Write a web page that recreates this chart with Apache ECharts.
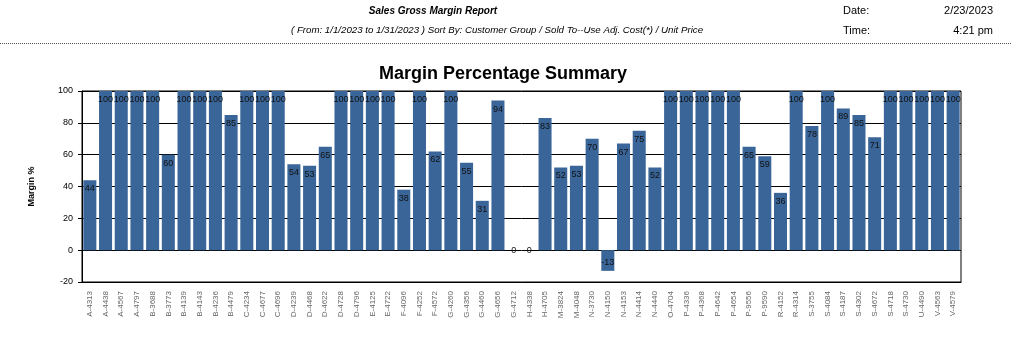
<!DOCTYPE html>
<html><head><meta charset="utf-8">
<script src="https://cdn.jsdelivr.net/npm/echarts@6/dist/echarts.min.js"></script>
<style>html,body{margin:0;padding:0;background:#fff}#c{width:1011px;height:362px}</style>
</head><body><div id="c"></div>
<script>
const categories = ["A-4313","A-4438","A-4567","A-4797","B-3688","B-3773","B-4139","B-4143","B-4236","B-4479","C-4234","C-4677","C-4696","D-4239","D-4468","D-4622","D-4728","D-4796","E-4125","E-4722","F-4096","F-4252","F-4572","G-4260","G-4356","G-4460","G-4656","G-4712","H-4338","H-4705","M-3824","M-4048","N-3730","N-4150","N-4153","N-4414","N-4440","O-4704","P-4336","P-4368","P-4642","P-4654","P-9556","P-9590","R-4152","R-4314","S-3755","S-4084","S-4187","S-4302","S-4672","S-4718","S-4730","U-4490","V-4563","V-4579"];
const marginValues = [44,100,100,100,100,60,100,100,100,85,100,100,100,54,53,65,100,100,100,100,38,100,62,100,55,31,94,0,0,83,52,53,70,-13,67,75,52,100,100,100,100,100,65,59,36,100,78,100,89,85,71,100,100,100,100,100];
const yTicks = [-20,0,20,40,60,80,100];

const chart = echarts.init(document.getElementById('c'));
const seriesData = marginValues.map(v => {
  if (v < 0) return {value: v, label: {position: 'insideBottom'}};
  if (v === 0) return {value: v, label: {position: 'inside'}};
  return v;
});
const headFont = '"Liberation Sans Narrow","Liberation Sans",Arial,sans-serif';
chart.setOption({
  animation: false,
  title: {
    text: 'Margin Percentage Summary',
    left: 498, top: 60, textAlign: 'center',
    textStyle: {fontFamily: 'Liberation Sans, Arial, sans-serif', fontSize: 18, fontWeight: 'bold', color: '#000'}
  },
  graphic: [
    {type: 'text', style: {text: 'Sales Gross Margin Report', x: 433, y: 11, textAlign: 'center', textVerticalAlign: 'middle', font: 'italic bold 10px ' + headFont, fill: '#000'}},
    {type: 'text', style: {text: '( From: 1/1/2023 to 1/31/2023 ) Sort By: Customer Group / Sold To--Use Adj. Cost(*) / Unit Price', x: 497, y: 30, textAlign: 'center', textVerticalAlign: 'middle', font: 'italic 9.7px ' + headFont, fill: '#000'}},
    {type: 'text', style: {text: 'Date:', x: 843, y: 11, textAlign: 'left', textVerticalAlign: 'middle', font: '11px ' + headFont, fill: '#000'}},
    {type: 'text', style: {text: '2/23/2023', x: 993, y: 11, textAlign: 'right', textVerticalAlign: 'middle', font: '11px ' + headFont, fill: '#000'}},
    {type: 'text', style: {text: 'Time:', x: 843, y: 31, textAlign: 'left', textVerticalAlign: 'middle', font: '11px ' + headFont, fill: '#000'}},
    {type: 'text', style: {text: '4:21 pm', x: 993, y: 31, textAlign: 'right', textVerticalAlign: 'middle', font: '11px ' + headFont, fill: '#000'}},
    {type: 'line', shape: {x1: 0, y1: 43.5, x2: 1011, y2: 43.5}, style: {stroke: '#555', lineWidth: 1, lineDash: [1, 1]}}
  ],
  grid: {left: 82, right: 50, top: 91, bottom: 80, show: true, borderColor: '#000', borderWidth: 1, containLabel: false},
  xAxis: {
    type: 'category', data: categories,
    position: 'bottom',
    axisLine: {onZero: false, lineStyle: {color: '#000'}},
    axisTick: {show: false},
    axisLabel: {rotate: 90, interval: 0, fontSize: 8, color: '#666', fontFamily: 'Liberation Sans, Arial, sans-serif', margin: 9}
  },
  yAxis: {
    type: 'value', min: -20, max: 100, interval: 20,
    name: 'Margin %', nameLocation: 'middle', nameGap: 46, nameRotate: 90,
    nameTextStyle: {fontSize: 9, fontWeight: 'bold', color: '#000', fontFamily: 'Liberation Sans, Arial, sans-serif'},
    axisLine: {show: true, lineStyle: {color: '#000'}},
    axisTick: {show: true, length: 4, lineStyle: {color: '#000'}},
    splitLine: {show: true, lineStyle: {color: '#000', width: 1}},
    axisLabel: {fontSize: 9, color: '#000', fontFamily: 'Liberation Sans, Arial, sans-serif', margin: 9,
      formatter: v => yTicks.includes(v) ? String(v) : ''}
  },
  series: [{
    type: 'bar', data: seriesData, barCategoryGap: '17%',
    itemStyle: {color: '#3a6598'},
    label: {show: true, position: 'insideTop', distance: 4, fontSize: 9, color: '#111', fontFamily: 'Liberation Sans, Arial, sans-serif'}
  }]
});
</script></body></html>
